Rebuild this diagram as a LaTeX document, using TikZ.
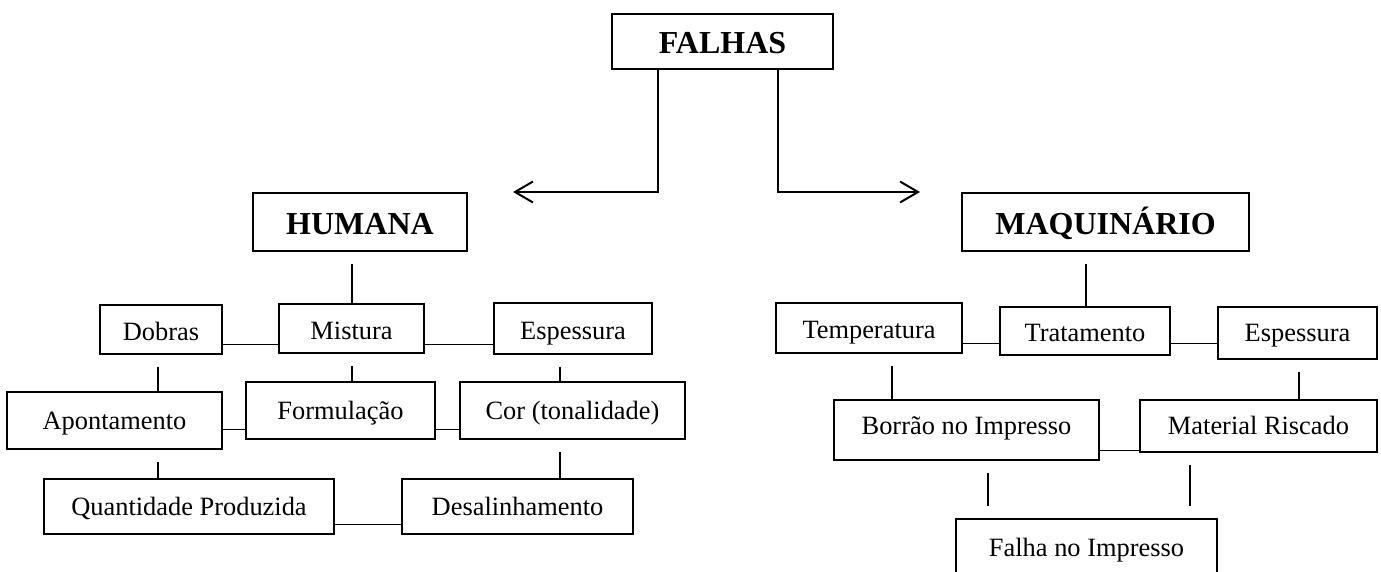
\documentclass[tikz,border=0pt]{standalone}
\usepackage{fontspec}
\setmainfont{Liberation Serif}
\usetikzlibrary{arrows.meta}
\tikzset{
  box/.style={draw, line width=1.1pt, inner sep=0pt, text height=8.74pt, text depth=0pt,
    font=\fontsize{13.2}{15}\selectfont},
  rbox/.style={box, line width=0.85pt},
  low/.style={text height=10.7pt},
  high/.style={text height=4.8pt},
  head/.style={draw, line width=1pt, inner sep=0pt, text height=12.4pt, text depth=0pt,
    font=\fontsize{16}{18}\selectfont\bfseries},
  link/.style={line width=0.65pt},
  stem/.style={line width=0.65pt, shorten <=6pt},
  arr/.style={line width=1pt, -{Straight Barb[length=9pt, width=10.5pt, line width=1pt]}},
}
\begin{document}
\begin{tikzpicture}[x=0.5pt, y=-0.5pt]
\useasboundingbox (0,0) rectangle (1381,572);

% headers
\node[head, minimum width=110.5pt, minimum height=27.5pt] (fal) at (722.5,41.5) {FALHAS};
\node[head, minimum width=107pt, minimum height=29pt] (hum) at (360,222) {HUMANA};
\node[head, line width=0.85pt, minimum width=143.5pt, minimum height=29pt] (maq) at (1105.5,222) {MAQUINÁRIO};

% left tree
\node[box, low, minimum width=61pt, minimum height=24.5pt] (dob) at (161,329.5) {Dobras};
\node[box, low, minimum width=72.5pt, minimum height=24.5pt] (mis) at (351.5,328.5) {Mistura};
\node[box, low, minimum width=79pt, minimum height=25.5pt] (espl) at (573,328.5) {Espessura};
\node[box, minimum width=107.5pt, minimum height=28.5pt] (apo) at (114.5,420.5) {Apontamento};
\node[box, minimum width=94.5pt, minimum height=28.5pt] (for) at (340.5,410.5) {Formulação};
\node[box, minimum width=112.5pt, minimum height=28.5pt] (cor) at (572.5,410.5) {Cor (tonalidade)};
\node[box, minimum width=145pt, minimum height=27.5pt] (qua) at (189,506.5) {Quantidade Produzida};
\node[box, minimum width=115.5pt, minimum height=27.5pt] (des) at (517.5,506.5) {Desalinhamento};

% right tree
\node[rbox, low, minimum width=93pt, minimum height=25pt] (tem) at (869,328) {Temperatura};
\node[rbox, low, minimum width=85pt, minimum height=24pt] (tra) at (1085,331) {Tratamento};
\node[rbox, minimum width=79.5pt, minimum height=26pt] (espr) at (1297.5,333) {Espessura};
\node[rbox, high, minimum width=132.5pt, minimum height=30pt] (bor) at (966.5,430) {Borrão no Impresso};
\node[rbox, minimum width=118.5pt, minimum height=26pt] (mat) at (1258.5,426) {Material Riscado};
\node[rbox, minimum width=130.5pt, minimum height=28.5pt] (fai) at (1086.5,547.5) {Falha no Impresso};

% arrows from FALHAS
\coordinate (lx) at (658,192);
\coordinate (rx) at (778,192);
\coordinate (aL) at (513,192);
\coordinate (aR) at (920,192);
\draw[arr] (fal.south -| lx) -- (lx) -- (aL);
\draw[arr] (fal.south -| rx) -- (rx) -- (aR);

% horizontal links
\coordinate (h1) at (0,344.3);
\coordinate (h2) at (0,429.3);
\coordinate (h3) at (0,524.3);
\coordinate (h4) at (0,343.7);
\coordinate (h5) at (0,450.7);
\draw[link] (dob.east |- h1) -- (mis.west |- h1);
\draw[link] (mis.east |- h1) -- (espl.west |- h1);
\draw[link] (apo.east |- h2) -- (for.west |- h2);
\draw[link] (for.east |- h2) -- (cor.west |- h2);
\draw[link] (qua.east |- h3) -- (des.west |- h3);
\draw[link] (tem.east |- h4) -- (tra.west |- h4);
\draw[link] (tra.east |- h4) -- (espr.west |- h4);
\draw[link] (bor.east |- h5) -- (mat.west |- h5);

% vertical stems
\coordinate (s1) at (352,0);
\coordinate (s2) at (158,0);
\coordinate (s3) at (560,0);
\coordinate (s4) at (1086,0);
\coordinate (s5) at (892,0);
\coordinate (s6) at (1299,0);
\coordinate (s7) at (988,0);
\coordinate (s8) at (1190,0);
\draw[stem] (hum.south -| s1) -- (mis.north -| s1);
\draw[stem] (mis.south -| s1) -- (for.north -| s1);
\draw[stem] (dob.south -| s2) -- (apo.north -| s2);
\draw[stem] (apo.south -| s2) -- (qua.north -| s2);
\draw[stem] (espl.south -| s3) -- (cor.north -| s3);
\draw[stem] (cor.south -| s3) -- (des.north -| s3);
\draw[stem] (maq.south -| s4) -- (tra.north -| s4);
\draw[stem] (tem.south -| s5) -- (bor.north -| s5);
\draw[stem] (espr.south -| s6) -- (mat.north -| s6);
\draw[stem, shorten >=6pt] (bor.south -| s7) -- (fai.north -| s7);
\draw[stem, shorten >=6pt] (mat.south -| s8) -- (fai.north -| s8);
\end{tikzpicture}
\end{document}
